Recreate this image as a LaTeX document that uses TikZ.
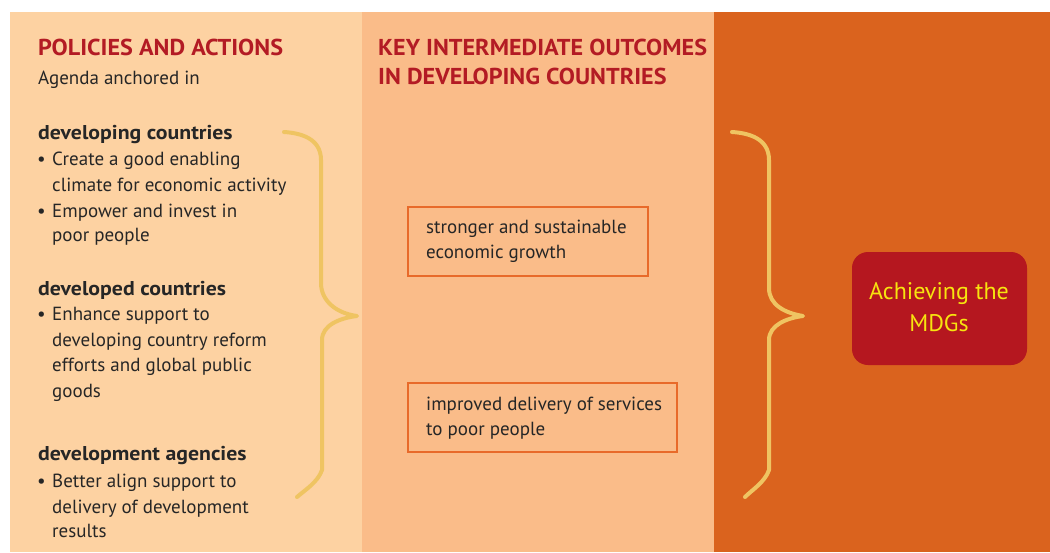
\documentclass[tikz,border=0pt]{standalone}
\usepackage{fontspec}
\setmainfont{PT Sans}
\newfontfamily\wideboldfont[FakeStretch=1.05]{PT Sans Bold}
\newfontfamily\headboldfont[FakeStretch=1.09]{PT Sans Bold}
\definecolor{panelA}{HTML}{FDD2A2}
\definecolor{panelB}{HTML}{FABC89}
\definecolor{panelC}{HTML}{DA631E}
\definecolor{titlered}{HTML}{B31B24}
\definecolor{boxred}{HTML}{B5171F}
\definecolor{braceyel}{HTML}{EFC462}
\definecolor{boxline}{HTML}{E86A2A}
\definecolor{txt}{HTML}{262626}
\definecolor{mdgyel}{HTML}{F7E40F}
\tikzset{
  title/.style={anchor=base west,inner sep=0pt,text=titlered,font=\fontsize{23}{27}\wideboldfont},
  body/.style={anchor=base west,inner sep=0pt,text=txt,font=\fontsize{19}{25}\selectfont},
  head/.style={anchor=base west,inner sep=0pt,text=txt,font=\fontsize{20}{25}\headboldfont},
  bul/.style={anchor=base west,inner sep=0pt,text=txt,font=\fontsize{19}{25}\selectfont},
  brace/.style={draw=braceyel,line width=4pt,line cap=round,line join=round},
  outbox/.style={draw=boxline,line width=1.2pt},
  mdg/.style={anchor=base,inner sep=0pt,text=mdgyel,font=\fontsize{24}{28}\selectfont},
}
\begin{document}
\begin{tikzpicture}[x=1pt,y=-1pt]
\useasboundingbox (0,0) rectangle (1050,552);
\fill[white] (0,0) rectangle (1050,552);
\fill[panelA] (10,12) rectangle (362,552);
\fill[panelB] (362,12) rectangle (714,552);
\fill[panelC] (714,12) rectangle (1050,552);
% left column
\node[title] (t1) at (38,55) {POLICIES AND ACTIONS};
\node[body] (ag) at (38,84) {Agenda anchored in};
\node[head] (h1) at (38,139) {developing countries};
\node[bul] (b1) at (37,165) {•};
\node[body] (l1a) at (52,165) {Create a good enabling};
\node[body] (l1b) at (52,191) {climate for economic activity};
\node[bul] (b2) at (37,217) {•};
\node[body] (l2a) at (52,217) {Empower and invest in};
\node[body] (l2b) at (52,241) {poor people};
\node[head] (h2) at (38,295) {developed countries};
\node[bul] (b3) at (37,320) {•};
\node[body] (l3a) at (52,320) {Enhance support to};
\node[body] (l3b) at (52,346) {developing country reform};
\node[body] (l3c) at (52,371) {efforts and global public};
\node[body] (l3d) at (52,397) {goods};
\node[head] (h3) at (38,460) {development agencies};
\node[bul] (b4) at (37,487) {•};
\node[body] (l4a) at (52,487) {Better align support to};
\node[body] (l4b) at (52,513) {delivery of development};
\node[body] (l4c) at (52,537) {results};
% middle column
\node[title] (t2) at (378,55) {KEY INTERMEDIATE OUTCOMES};
\node[title] (t3) at (378,84) {IN DEVELOPING COUNTRIES};
\draw[outbox] (408,207) rectangle (648,276);
\node[body] (o1a) at (426,233) {stronger and sustainable};
\node[body] (o1b) at (426,258) {economic growth};
\draw[outbox] (408,383) rectangle (677,452);
\node[body] (o2a) at (426,410) {improved delivery of services};
\node[body] (o2b) at (426,435) {to poor people};
% goal box
\fill[boxred,rounded corners=16pt] (852,252) rectangle (1027,365);
\node[mdg] (m1) at (939,299) {Achieving the};
\node[mdg] (m2) at (939,331) {MDGs};
% braces
\draw[brace] (284,132) .. controls (300,133) and (321,138) .. (321,160)
  -- (321,283) .. controls (321,300) and (335,313) .. (357,316)
  .. controls (340,318) and (322,325) .. (322,340)
  -- (322,470) .. controls (318,482) and (305,490) .. (297,497);
\draw[brace] (732,132) .. controls (748,133) and (769,138) .. (769,160)
  -- (769,288) .. controls (769,305) and (785,313) .. (803,316)
  .. controls (787,318) and (769,325) .. (769,340)
  -- (769,470) .. controls (765,482) and (752,490) .. (745,497);
\end{tikzpicture}
\end{document}
